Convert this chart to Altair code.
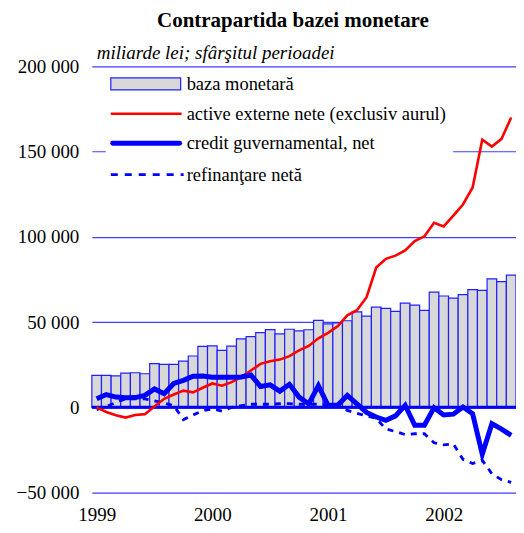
import altair as alt
import pandas as pd

# Monthly data, January 1999 .. August 2002 (44 months)
months = list(range(44))
years = [1999, 2000, 2001, 2002]

baza = [18800, 18800, 18400, 20100, 20300, 19700, 25600, 25200, 25200, 27100,
        30100, 35800, 36100, 33400, 35900, 40200, 41500, 43800, 45600, 43100,
        45800, 44800, 45500, 51000, 49000, 49500, 50800, 56000, 53500, 58800,
        58000, 56300, 61100, 60000, 56900, 67600, 65300, 64100, 66100, 69000,
        68600, 75400, 73700, 77600]

active = [0, -2700, -4700, -6000, -4500, -4000, 500, 5000, 7500, 9800,
          8800, 11500, 14000, 12700, 14800, 17700, 21600, 25500, 27000, 28000,
          30000, 33400, 36000, 40500, 43700, 47500, 54000, 57000, 64600, 82000,
          87100, 89000, 92000, 97500, 100300, 108300, 106100, 112500, 119000, 129000,
          157000, 153000, 157500, 170000]

credit = [5000, 7500, 6000, 5600, 5700, 7000, 10800, 8000, 14000, 15800,
          18300, 18400, 17600, 17700, 17700, 17800, 19000, 12200, 13200, 9500,
          13500, 6000, 2000, 12700, 1200, 1200, 7000, 2000, -3000, -5700,
          -7600, -5000, 1200, -10500, -10500, -200, -4500, -4000, 200, -3700,
          -27500, -9600, -12800, -16400]

refin = [-1300, 500, 2800, 5000, 5000, 5000, 3800, 2500, 1000, -7200,
         -4500, -2000, -900, -2200, 0, 1000, 1800, 1800, 1800, 2100,
         2200, 1800, 1800, 1800, 1500, 1000, -1800, -3500, -5000, -6500,
         -12700, -14200, -16000, -15500, -15500, -20800, -22000, -21500, -30500, -33000,
         -31000, -39000, -42500, -44000]

y_ticks = [-50000, 0, 50000, 100000, 150000, 200000]

FONT = "Liberation Serif"
BLUE = "#0000ff"
GRID = "#3f3fff"
BAR_FILL = "#d8d8d8"
BAR_STROKE = "#2020ff"

bars_df = pd.DataFrame({"t": months, "baza": baza})
bars_df["t0"] = bars_df["t"] - 0.5
bars_df["t1"] = bars_df["t"] + 0.5
lines_df = pd.DataFrame({"t": months, "active": active, "credit": credit, "refin": refin})
one = pd.DataFrame({"z": [0]})

xscale = alt.Scale(domain=[-0.5, 43.5], nice=False, zero=False)
yscale = alt.Scale(domain=[-50000, 200000], nice=False)

year_expr = "[" + ",".join(str(y) for y in years) + "][datum.value / 12]"

xaxis = alt.Axis(values=[0, 12, 24, 36], labelExpr=year_expr, grid=False,
                 domain=False, ticks=False, labelFont=FONT, labelFontSize=19,
                 labelColor="black", labelPadding=13, title=None)
yaxis = alt.Axis(values=y_ticks,
                 labelExpr="replace(format(datum.value, ','), ',', ' ')",
                 grid=True, gridColor=GRID, gridWidth=1.2, domain=False,
                 ticks=False, labelFont=FONT, labelFontSize=19,
                 labelColor="black", labelPadding=13, title=None)

bars = alt.Chart(bars_df).mark_bar(fill=BAR_FILL, stroke=BAR_STROKE, strokeWidth=1.2).encode(
    x=alt.X("t0:Q", scale=xscale, axis=xaxis),
    x2="t1",
    y=alt.Y("baza:Q", scale=yscale, axis=yaxis),
    y2=alt.datum(0),
)

zero = alt.Chart(one).mark_rule(color=BLUE, strokeWidth=3).encode(
    y=alt.Y("z:Q", scale=yscale)
)

base = alt.Chart(lines_df).encode(x=alt.X("t:Q", scale=xscale))
refin_line = base.mark_line(color=BLUE, strokeWidth=2.8, strokeDash=[6, 6]).encode(
    y=alt.Y("refin:Q", scale=yscale))
active_line = base.mark_line(color="#ff0000", strokeWidth=2.6).encode(
    y=alt.Y("active:Q", scale=yscale))
credit_line = base.mark_line(color=BLUE, strokeWidth=5).encode(
    y=alt.Y("credit:Q", scale=yscale))

# manual legend (inside the plot, top-left)
leg_bg = alt.Chart(one).mark_rect(fill="white").encode(
    x=alt.value(14), x2=alt.value(362), y=alt.value(4), y2=alt.value(124))
leg_bar = alt.Chart(one).mark_rect(fill=BAR_FILL, stroke=BAR_STROKE, strokeWidth=1.2).encode(
    x=alt.value(19), x2=alt.value(89), y=alt.value(11.5), y2=alt.value(23.5))
leg_red = alt.Chart(one).mark_rule(color="#ff0000", strokeWidth=2.6).encode(
    x=alt.value(19), x2=alt.value(90), y=alt.value(47.5))
leg_cred = alt.Chart(one).mark_rule(color=BLUE, strokeWidth=5, strokeCap="round").encode(
    x=alt.value(21), x2=alt.value(88), y=alt.value(77))
leg_ref = alt.Chart(one).mark_rule(color=BLUE, strokeWidth=2.8, strokeDash=[7, 7]).encode(
    x=alt.value(19), x2=alt.value(92), y=alt.value(108.5))

def leg_text(label, y):
    return alt.Chart(one).mark_text(align="left", baseline="middle", font=FONT,
                                    fontSize=18.5, color="black").encode(
        x=alt.value(95), y=alt.value(y), text=alt.value(label))

texts = [
    leg_text("baza monetară", 17.5),
    leg_text("active externe nete (exclusiv aurul)", 47.5),
    leg_text("credit guvernamental, net", 77),
    leg_text("refinanţare netă", 108.5),
]

subtitle = alt.Chart(one).mark_text(align="left", baseline="middle", font=FONT,
                                    fontSize=19, fontStyle="italic", color="black").encode(
    x=alt.value(5), y=alt.value(-13.5), text=alt.value("miliarde lei; sfârşitul perioadei"))

title = alt.Chart(one).mark_text(align="center", baseline="alphabetic", font=FONT,
                                 fontSize=21, fontWeight="bold", color="black").encode(
    x=alt.value(201.5), y=alt.value(-39.5), text=alt.value("Contrapartida bazei monetare"))

chart = alt.layer(
    bars, zero, refin_line, active_line, credit_line,
    leg_bg, leg_bar, leg_red, leg_cred, leg_ref, *texts, subtitle, title,
).properties(
    width=425,
    height=427,
    autosize=alt.AutoSizeParams(type="none"),
    padding={"left": 84, "top": 58, "right": 0, "bottom": 40},
).configure_view(stroke=None)

chart.save("out.html", embed_options={"renderer": "svg", "actions": False})
